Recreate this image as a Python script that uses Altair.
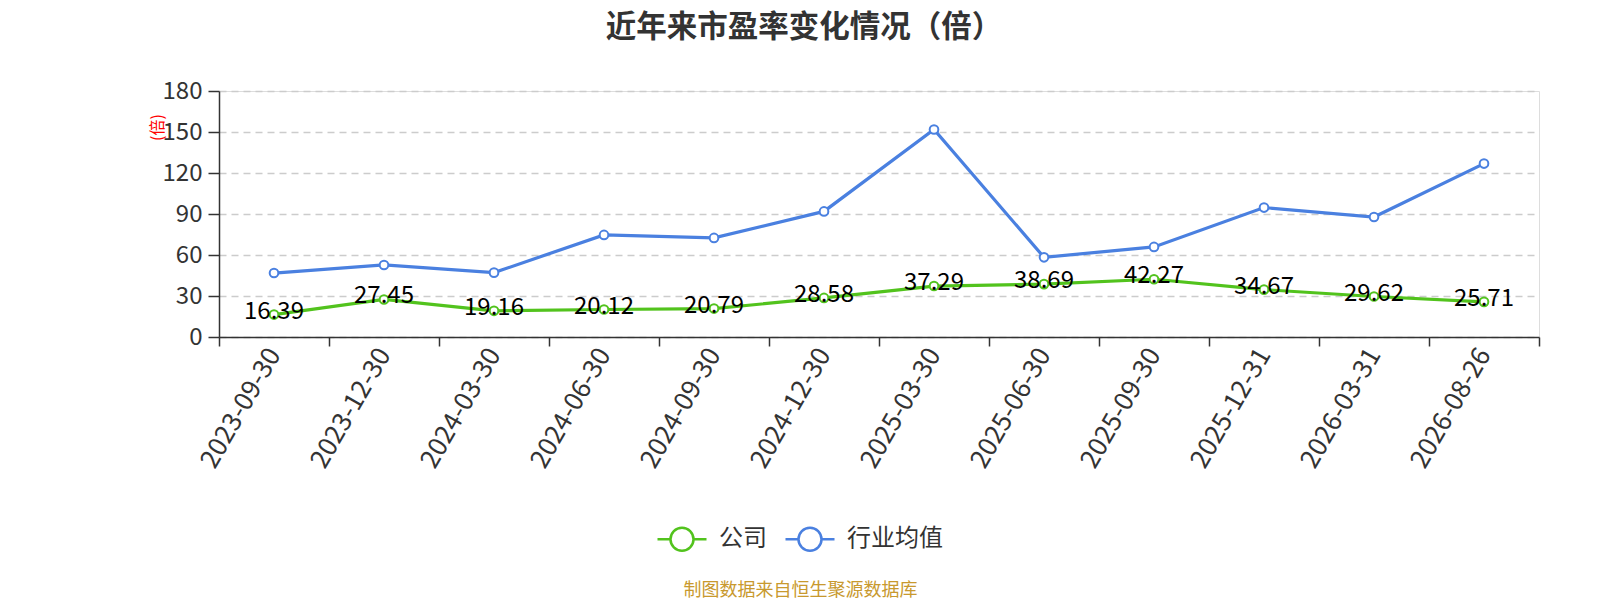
import altair as alt
import pandas as pd

dates = ["2023-09-30", "2023-12-30", "2024-03-30", "2024-06-30", "2024-09-30", "2024-12-30",
         "2025-03-30", "2025-06-30", "2025-09-30", "2025-12-31", "2026-03-31", "2026-08-26"]
company = [16.39, 27.45, 19.16, 20.12, 20.79, 28.58, 37.29, 38.69, 42.27, 34.67, 29.62, 25.71]
industry = [46.8, 52.7, 47.1, 74.7, 72.5, 91.9, 151.8, 58.3, 65.9, 94.7, 87.8, 126.9]
series = ["公司", "行业均值"]
colors = ["#52c31d", "#4a80e0"]
y_ticks = [0, 30, 60, 90, 120, 150, 180]

rows = []
for d, c, i in zip(dates, company, industry):
    rows.append({"date": d, "series": series[0], "value": c})
    rows.append({"date": d, "series": series[1], "value": i})
df = pd.DataFrame(rows)

FONT = "Noto Sans CJK SC"

x = alt.X("date:N", sort=dates, scale=alt.Scale(paddingInner=0, paddingOuter=0),
          axis=alt.Axis(title="制图数据来自恒生聚源数据库", titleColor="#c8992e", titleFontSize=18,
                        titleFontWeight="normal", titleX=581, titleY=253, titleAlign="center",
                        titleBaseline="middle", titleFont=FONT,
                        labelAngle=-60, labelFontSize=26, labelColor="#333333", labelFont=FONT,
                        tickBand="extent", tickSize=9, tickColor="#333333", tickWidth=1.5,
                        domainColor="#333333", domainWidth=1.5, grid=False, labelPadding=4))
y = alt.Y("value:Q", scale=alt.Scale(domain=[0, 180], nice=False),
          axis=alt.Axis(values=y_ticks, title="(倍)", titleColor="red", titleFontSize=16,
                        titleFontWeight="normal", titleX=-62, titleY=36, titleAngle=-90,
                        titleAlign="center", titleBaseline="middle", titleFont=FONT,
                        labelFontSize=24, labelColor="#333333", labelFont=FONT,
                        tickSize=11, tickColor="#333333", tickWidth=1.5,
                        domainColor="#333333", domainWidth=1.5,
                        grid=True, gridColor="#cccccc", gridDash=[7, 5], gridWidth=1.5,
                        labelPadding=6))

color_scale = alt.Scale(domain=series, range=colors)

legend_path = ("M-1,0 L-0.47,0 M0.47,0 L1,0 "
               "M-0.47,0 A0.47,0.47 0 1,1 0.47,0 A0.47,0.47 0 1,1 -0.47,0 Z")

base = alt.Chart(df)

lines = base.mark_line(strokeWidth=3.2).encode(
    x=x, y=y,
    color=alt.Color("series:N", scale=color_scale, sort=series,
                    legend=alt.Legend(title=None, orient="none", legendX=437, legendY=422,
                                      direction="horizontal", symbolType=legend_path,
                                      symbolSize=2401, symbolStrokeWidth=2.5,
                                      symbolFillColor="white",
                                      labelFontSize=24, labelColor="#333333", labelFont=FONT,
                                      labelOffset=11, columnPadding=13, padding=0)),
)

points = base.mark_point(filled=False, fill="white", size=75, strokeWidth=2, opacity=1).encode(
    x=x, y=y,
    color=alt.Color("series:N", scale=color_scale, legend=None),
)

labels = base.transform_filter(alt.datum.series == series[0]).mark_text(
    fontSize=24, color="black", font=FONT, baseline="middle", dy=-3
).encode(
    x=x, y=y,
    text=alt.Text("value:Q", format=".2f"),
)

chart = alt.layer(lines, points, labels).properties(
    width=1320, height=246,
    autosize=alt.AutoSizeParams(type="none"),
    padding={"left": 211, "top": 83, "right": 30, "bottom": 263},
    title=alt.Title("近年来市盈率变化情况（倍）", font=FONT, fontSize=30.5, fontWeight="bold",
                    color="#333333", anchor="middle", dx=-75, offset=36),
).configure_view(stroke=None).configure(font=FONT)

chart.save("out.html", embed_options={"renderer": "svg", "actions": False})
